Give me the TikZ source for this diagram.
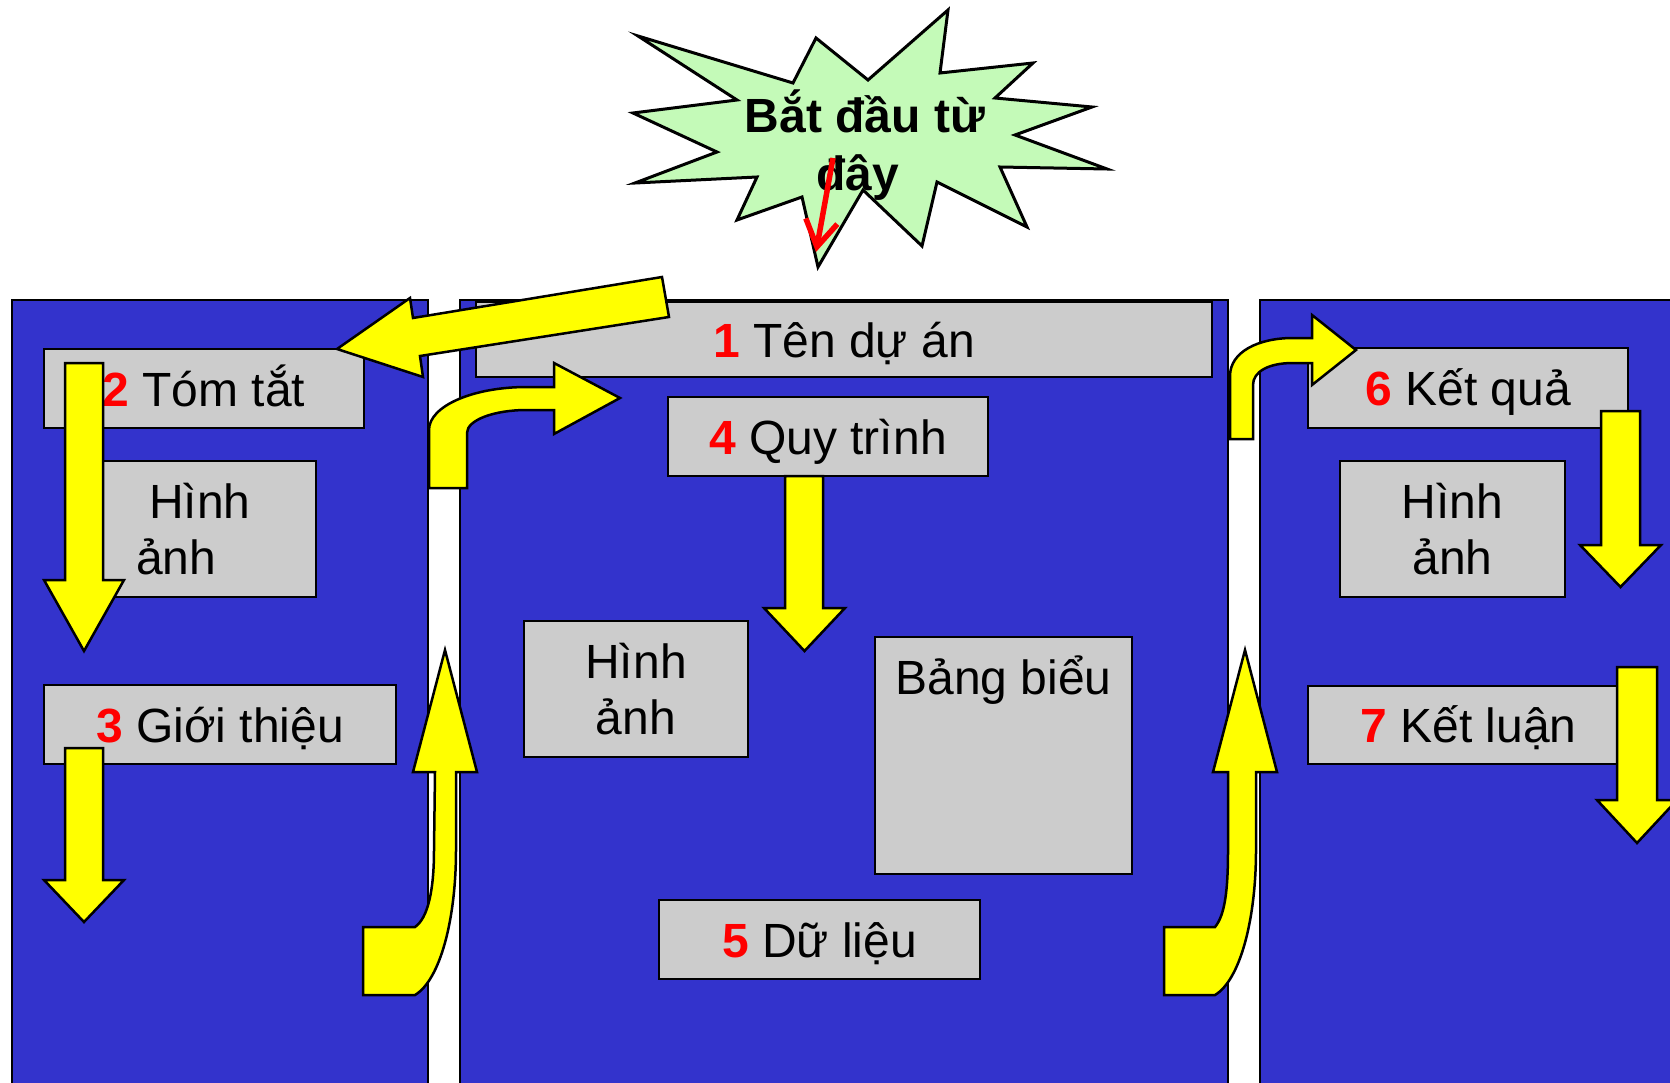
\documentclass[tikz,border=0pt]{standalone}
\usepackage{fontspec}
\setmainfont{Liberation Sans}
\usetikzlibrary{arrows.meta}
\definecolor{panelblue}{RGB}{51,51,204}
\definecolor{boxgray}{RGB}{204,204,204}
\definecolor{burstgreen}{RGB}{196,250,184}
\definecolor{arrowyellow}{RGB}{255,255,0}
\definecolor{numred}{RGB}{255,0,0}
\newcommand{\num}[1]{\textcolor{numred}{\bfseries #1}}
\newcommand{\yDownArrow}[7]{% x1 x2 ytop ybase xl xr ytip
  \draw[yarrow] (#1,#3) -- (#2,#3) -- (#2,#4) -- (#6,#4) -- ({(#5+#6)/2},#7) -- (#5,#4) -- (#1,#4) -- cycle;}
\begin{document}
\begin{tikzpicture}[x=1pt,y=-1pt,
  panel/.style={fill=panelblue,draw=black,line width=2pt},
  graybox/.style={rectangle,fill=boxgray,draw=black,line width=2.5pt,inner sep=0pt,
    font=\fontsize{48}{56}\selectfont},
  onebox/.style={graybox,text height=35pt,text depth=0pt},
  yarrow/.style={fill=arrowyellow,draw=black,line width=2.5pt,line join=miter},
  burst/.style={fill=burstgreen,draw=black,line width=3pt,line join=miter},
  redarrow/.style={draw=numred,line width=5.5pt,-{Straight Barb[length=26pt,width=32pt,line width=5.5pt]}}
]
\useasboundingbox (0,0) rectangle (1670,1083);
\clip (0,0) rectangle (1670,1083);
\fill[white] (0,0) rectangle (1670,1083);

% panels
\draw[panel] (12,300) rectangle (428,1100);
\draw[panel] (460,300) rectangle (1228,1100);
\draw[panel] (1260,300) rectangle (1690,1100);

% boxes
\node[onebox,minimum width=736pt,minimum height=75pt] (b1) at (844,339.5) {\num{1} Tên dự án};
\node[onebox,minimum width=320pt,minimum height=79pt] (b2) at (204,388.5) {\num{2} Tóm tắt};
\node[graybox,minimum width=213pt,minimum height=136pt,align=left,text width=147pt] (img1) at (209.5,529) {\hspace*{13pt}Hình\\ảnh};
\node[onebox,minimum width=352pt,minimum height=79pt] (b3) at (220,724.5) {\num{3} Giới thiệu};
\node[onebox,minimum width=320pt,minimum height=79pt] (b4) at (828,436.5) {\num{4} Quy trình};
\node[graybox,minimum width=224pt,minimum height=136pt,align=center] (img2) at (636,689) {Hình\\ảnh};
\node[graybox,minimum width=257pt,minimum height=237pt,text height=35pt,text depth=158pt] (tab) at (1003.5,755.5) {Bảng biểu};
\node[onebox,minimum width=321pt,minimum height=79pt] (b5) at (819.5,939.5) {\num{5} Dữ liệu};
\node[onebox,minimum width=320pt,minimum height=80pt] (b6) at (1468,388) {\num{6} Kết quả};
\node[graybox,minimum width=225pt,minimum height=136pt,align=center] (img3) at (1452.5,529) {Hình\\ảnh};
\node[onebox,minimum width=310pt,minimum height=78pt] (b7) at (1463,725) {\hspace*{11pt}\num{7} Kết luận};

% arrow from 1 to 2
\draw[yarrow] (662,277) -- (413,318) -- (410,298) -- (337,349) -- (423,377) -- (420,356) -- (669,317) -- cycle;
% bent arrow left panel -> 4
\draw[yarrow] (429,488) -- (429,430) .. controls (429,406) and (473,387) .. (527,387) -- (554,387) -- (554,363) -- (620,398) -- (554,434) -- (554,410) -- (527,410) .. controls (494,410) and (467,420) .. (467,433) -- (467,488) -- cycle;
% bent arrow middle -> 6
\draw[yarrow] (1230,439) -- (1230,376) .. controls (1230,352) and (1258,338) .. (1293,338) -- (1312,338) -- (1312,315) -- (1356,350) -- (1312,385) -- (1312,363) -- (1293,363) .. controls (1268,363) and (1253,372) .. (1253,385) -- (1253,439) -- cycle;
% curved up arrows
\draw[yarrow] (363,927) -- (415,927) .. controls (428,918) and (434,890) .. (434,850) -- (435,772) -- (413,772) -- (445,650) -- (477,772) -- (456,772) -- (456,850) .. controls (456,920) and (440,980) .. (415,995) -- (363,995) -- cycle;
\draw[yarrow] (1164,927) -- (1215,927) .. controls (1225,915) and (1228,890) .. (1228,850) -- (1228,772) -- (1213,772) -- (1245,650) -- (1277,772) -- (1256,772) -- (1256,850) .. controls (1256,920) and (1240,980) .. (1215,995) -- (1164,995) -- cycle;
% straight down arrows
\yDownArrow{65}{103}{363}{580}{44}{124}{651}
\yDownArrow{65}{103}{748}{880}{44}{124}{922}
\yDownArrow{785}{823}{476}{608}{764}{845}{651}
\yDownArrow{1601}{1640}{411}{545}{1580}{1661}{587}
\yDownArrow{1617}{1657}{667}{800}{1597}{1677}{843}

% starburst
\draw[burst] (948,10) -- (940,73) -- (1033,63) -- (995,98) -- (1092,107) -- (1015,135) -- (1107,169) -- (1000,167) -- (1027,227) -- (937,182) -- (922,246) -- (863,190) -- (818,267) -- (802,197) -- (737,220) -- (757,177) -- (635,183) -- (717,152) -- (633,113) -- (737,100) -- (638,36) -- (793,83) -- (816,38) -- (868,80) -- cycle;
\node[align=center,font=\fontsize{48}{58}\selectfont\bfseries,inner sep=0pt] (start) at (865,145) {Bắt đầu từ\\đây\hspace*{15pt}};
\coordinate (redA) at (833,158);
\coordinate (redB) at (816,252);
\draw[redarrow] (redA) -- (redB);
\end{tikzpicture}
\end{document}
